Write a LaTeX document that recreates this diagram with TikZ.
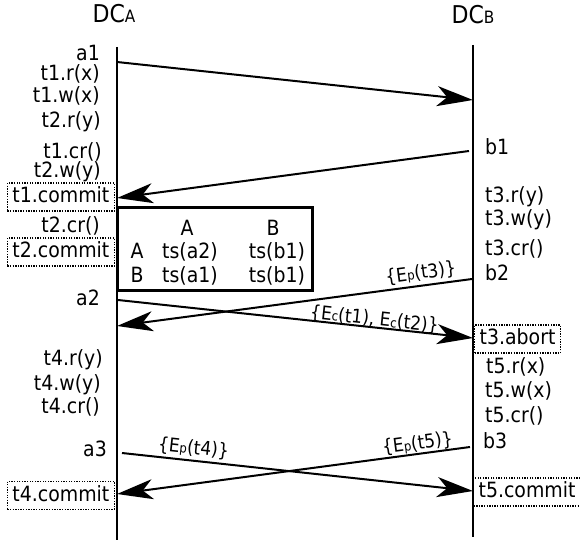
\documentclass[tikz,border=0pt]{standalone}
\usepackage{fontspec}
\setmainfont[FakeStretch=0.9]{DejaVu Sans}
\usetikzlibrary{arrows.meta}
\newcommand\smallsub[1]{{\fontsize{13pt}{13pt}\selectfont #1}}
\newcommand\titlesub[1]{{\fontsize{17pt}{17pt}\selectfont #1}}
\begin{document}
\begin{tikzpicture}[x=1pt,y=-1pt,
  lbl/.style={inner sep=0pt, font=\fontsize{21pt}{24pt}\selectfont},
  ttl/.style={inner sep=0pt, font=\fontsize{24.5pt}{28pt}\selectfont},
  boxlbl/.style={draw, dash pattern=on 1.3pt off 1.3pt, line width=1.3pt,
    inner xsep=5pt, inner ysep=3.5pt, text height=16pt, text depth=5pt,
    font=\fontsize{21pt}{24pt}\selectfont},
  msg/.style={line width=2pt, -{Stealth[length=36pt,width=20pt,inset=10pt]}},
  life/.style={line width=1.6pt},
  elbl/.style={font=\fontsize{19pt}{22pt}\selectfont, sloped, above, inner sep=2pt},
  tbl/.style={draw, line width=3pt, minimum width=195pt, minimum height=83pt, inner sep=0pt}
]
\useasboundingbox (0,0) rectangle (580,540);

% titles
\node[ttl, anchor=base] (dca) at (114,23) {DC\titlesub{A}};
\node[ttl, anchor=base] (dcb) at (473,24) {DC\titlesub{B}};

% lifelines
\coordinate (atop) at (117,47);
\coordinate (abot) at (117,540);
\coordinate (btop) at (473,45);
\coordinate (bbot) at (473,537);
\draw[life] (atop) -- (abot);
\draw[life] (btop) -- (bbot);

% left labels
\node[lbl, anchor=base east] (la1) at (100,61) {a1};
\node[lbl, anchor=base east] (lt1r) at (100,81) {t1.r(x)};
\node[lbl, anchor=base east] (lt1w) at (100,103) {t1.w(x)};
\node[lbl, anchor=base east] (lt2r) at (101,128) {t2.r(y)};
\node[lbl, anchor=base east] (lt1cr) at (102,159) {t1.cr()};
\node[lbl, anchor=base east] (lt2w) at (101,178) {t2.w(y)};
\node[boxlbl, anchor=east] (lt1c) at (115,197) {t1.commit};
\node[lbl, anchor=base east] (lt2cr) at (100,232) {t2.cr()};
\node[boxlbl, anchor=east] (lt2c) at (115,252) {t2.commit};
\node[lbl, anchor=base east] (la2) at (100,305) {a2};
\node[lbl, anchor=base east] (lt4r) at (103,365) {t4.r(y)};
\node[lbl, anchor=base east] (lt4w) at (101,390) {t4.w(y)};
\node[lbl, anchor=base east] (lt4cr) at (100,413) {t4.cr()};
\node[lbl, anchor=base east] (la3) at (107,456) {a3};
\node[boxlbl, anchor=east] (lt4c) at (115,495.5) {t4.commit};

% right labels
\node[lbl, anchor=base west] (rb1) at (485,155) {b1};
\node[lbl, anchor=base west] (rt3r) at (485,202) {t3.r(y)};
\node[lbl, anchor=base west] (rt3w) at (485,225) {t3.w(y)};
\node[lbl, anchor=base west] (rt3cr) at (485,255) {t3.cr()};
\node[lbl, anchor=base west] (rb2) at (485,280) {b2};
\node[boxlbl, anchor=west] (rt3a) at (474,339) {t3.abort};
\node[lbl, anchor=base west] (rt5r) at (486,373) {t5.r(x)};
\node[lbl, anchor=base west] (rt5w) at (485,397) {t5.w(x)};
\node[lbl, anchor=base west] (rt5cr) at (485,422) {t5.cr()};
\node[lbl, anchor=base west] (rb3) at (483,448) {b3};
\node[boxlbl, anchor=west] (rt5c) at (473,492) {t5.commit};

% table
\node[tbl] (table) at (214.5,248.5) {};
\node[lbl, anchor=base] (thA) at (187,235) {A};
\node[lbl, anchor=base] (thB) at (273,235) {B};
\node[lbl, anchor=base] (trA) at (137,258) {A};
\node[lbl, anchor=base] (tAA) at (190,258) {ts(a2)};
\node[lbl, anchor=base] (tAB) at (277,258) {ts(b1)};
\node[lbl, anchor=base] (trB) at (137,282) {B};
\node[lbl, anchor=base] (tBA) at (190,282) {ts(a1)};
\node[lbl, anchor=base] (tBB) at (277,282) {ts(b1)};

% message end points
\coordinate (a1s) at (117,62);  \coordinate (a1e) at (473,100);
\coordinate (b1s) at (469,151); \coordinate (b1e) at (117,198);
\coordinate (b2s) at (472,279); \coordinate (b2e) at (117,326);
\coordinate (a2s) at (118,300); \coordinate (a2e) at (473,338);
\coordinate (a3s) at (122,453); \coordinate (a3e) at (473,491);
\coordinate (b3s) at (470,447); \coordinate (b3e) at (117,494);

% messages
\draw[msg] (a1s) -- (a1e);
\draw[msg] (b1s) -- (b1e);
\draw[msg] (b2s) -- node[elbl, pos=0.14, inner sep=2.5pt] (lb2) {\{E\smallsub{p}(t3)\}} (b2e);
\draw[msg] (a2s) -- node[elbl, pos=0.72, inner sep=-2pt] (la2m) {\{E\smallsub{c}(t1), E\smallsub{c}(t2)\}} (a2e);
\draw[msg] (a3s) -- node[elbl, pos=0.2, inner sep=2.5pt] (la3m) {\{E\smallsub{p}(t4)\}} (a3e);
\draw[msg] (b3s) -- node[elbl, pos=0.145, inner sep=0.5pt] (lb3) {\{E\smallsub{p}(t5)\}} (b3e);
\end{tikzpicture}
\end{document}
